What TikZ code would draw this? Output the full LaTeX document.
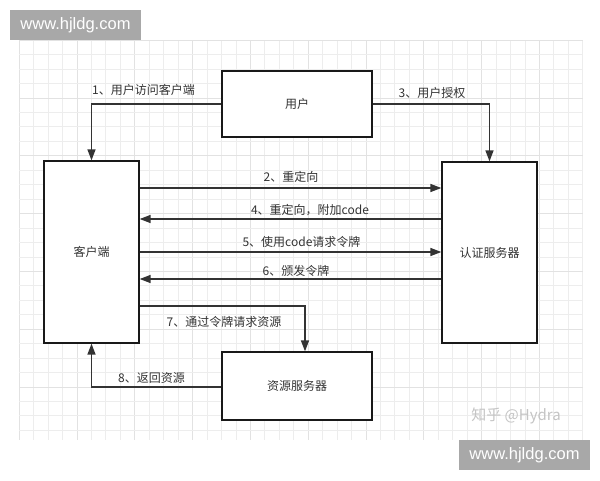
\documentclass[tikz,border=0pt]{standalone}
\usepackage{fontspec}
\setmainfont{Noto Sans CJK SC}
\newfontfamily\wmfont{Liberation Sans}
\usetikzlibrary{arrows.meta,calc}
\definecolor{ink}{HTML}{333333}
\definecolor{gridc}{HTML}{EDEDED}
\definecolor{gridm}{HTML}{E2E2E2}
\definecolor{wmgray}{HTML}{A8A8A8}
\definecolor{zhgray}{HTML}{C4C4C4}
\tikzset{
  box/.style={draw=black!90, line width=1.3pt, fill=white, inner sep=0pt, font=\fontsize{12}{14}\selectfont, text=ink},
  conn/.style={draw=ink, line width=1.4pt, -{Triangle[length=11pt,width=8pt]}},
  lab/.style={font=\fontsize{12}{14}\selectfont, text=ink, inner sep=0pt},
  wmbox/.style={fill=wmgray, text=white, font=\wmfont\fontsize{16.5}{18}\selectfont, inner sep=0pt, minimum width=131pt, minimum height=30pt},
  gridline/.style={draw=gridc, line width=0.5pt},
  gridmajor/.style={draw=gridm, line width=0.6pt}
}
\begin{document}
\begin{tikzpicture}[x=1pt,y=-1pt]
\useasboundingbox (0,0) rectangle (600,480);
\fill[white] (0,0) rectangle (600,480);
% grid
\foreach \i in {0,...,39} {
  \pgfmathtruncatemacro{\m}{mod(\i,4)}
  \ifnum\m=0 \draw[gridmajor] ({19+14.45*\i},40) -- ({19+14.45*\i},440);
  \else \draw[gridline] ({19+14.45*\i},40) -- ({19+14.45*\i},440); \fi
}
\foreach \j in {0,...,27} {
  \pgfmathtruncatemacro{\m}{mod(\j,4)}
  \ifnum\m=0 \draw[gridmajor] (19,{40+14.45*\j}) -- (583,{40+14.45*\j});
  \else \draw[gridline] (19,{40+14.45*\j}) -- (583,{40+14.45*\j}); \fi
}
% boxes
\node[box, minimum width=150pt, minimum height=66pt] (user) at (297,104) {用户};
\node[box, minimum width=95pt, minimum height=182pt] (client) at (91.5,252) {客户端};
\node[box, minimum width=95pt, minimum height=181pt] (auth) at (489.5,252.5) {认证服务器};
\node[box, minimum width=150pt, minimum height=68pt] (res) at (297,386) {资源服务器};
% connectors
\draw[conn] (user.west) -| (client.north);
\draw[conn] (user.east) -| (auth.north);
\draw[conn] ($(client.east)+(0,-64)$) -- ($(auth.west)+(0,-64.5)$);
\draw[conn] ($(auth.west)+(0,-33.5)$) -- ($(client.east)+(0,-33)$);
\draw[conn] ($(client.east)+(0,0)$) -- ($(auth.west)+(0,-0.5)$);
\draw[conn] ($(auth.west)+(0,26.5)$) -- ($(client.east)+(0,27)$);
\draw[conn] ($(client.east)+(0,54)$) -| ($(res.north)+(8,0)$);
\draw[conn] ($(res.west)+(0,1)$) -| (client.south);
% labels
\node[lab] (l1) at (143.5,90) {1、用户访问客户端};
\node[lab] (l3) at (432,93) {3、用户授权};
\node[lab] (l2) at (291,177) {2、重定向};
\node[lab] (l4) at (310,210) {4、重定向，附加code};
\node[lab] (l5) at (301.5,242) {5、使用code请求令牌};
\node[lab] (l6) at (296,271) {6、颁发令牌};
\node[lab] (l7) at (224,322) {7、通过令牌请求资源};
\node[lab] (l8) at (151.5,378) {8、返回资源};
% watermarks
\node[font=\fontsize{15}{17}\selectfont, text=zhgray, inner sep=0pt] (zh) at (516,416) {知乎 @Hydra};
\node[wmbox] (wm1) at (75.5,25) {www.hjldg.com};
\node[wmbox] (wm2) at (524.5,455) {www.hjldg.com};
\end{tikzpicture}
\end{document}
